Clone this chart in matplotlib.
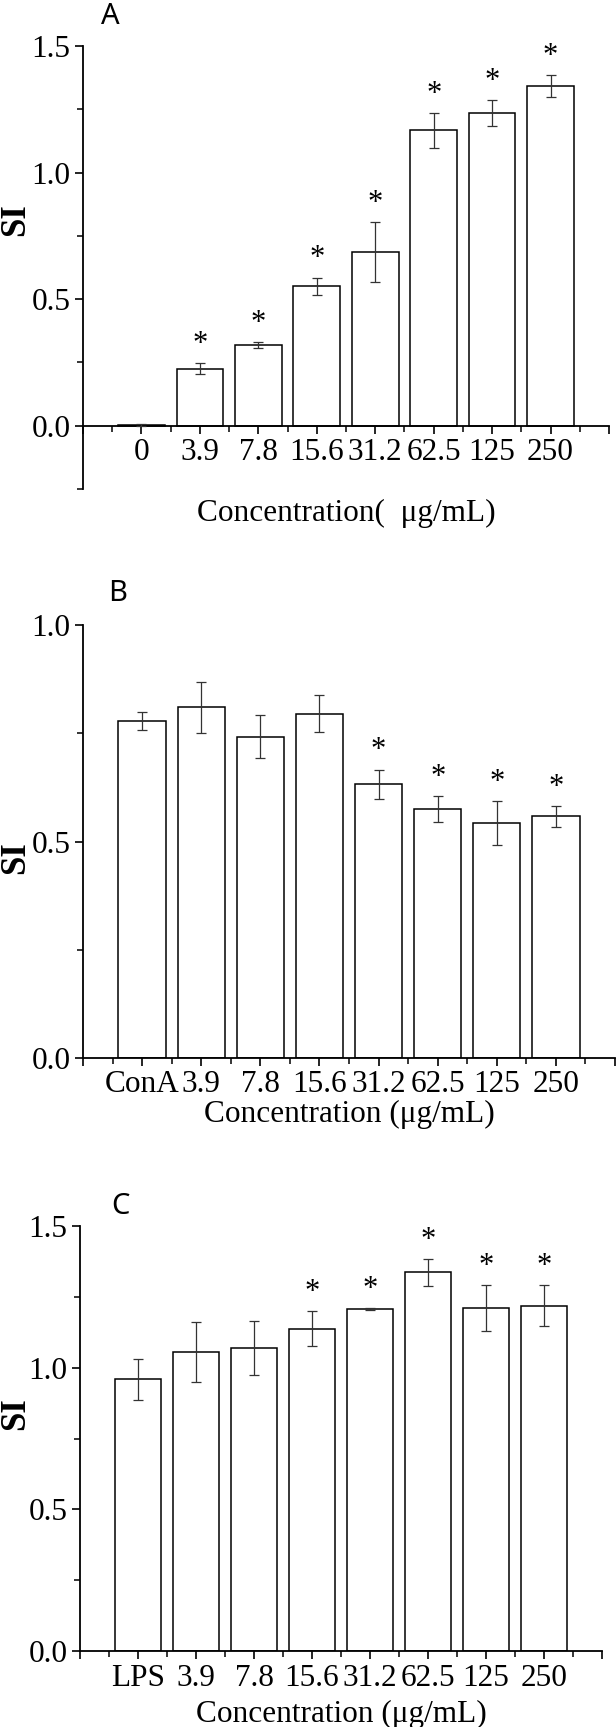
#Bar charts of SI for the three panels (A, B, C)

import numpy as np
import matplotlib
matplotlib.use('Agg')
import matplotlib.pyplot as plt
from matplotlib.ticker import MultipleLocator

plt.rcParams['font.family'] = ['Liberation Serif', 'DejaVu Sans']

#panel A data
cats_a = ['0', '3.9', '7.8', '15.6', '31.2', '62.5', '125', '250']
si_a = [0.003, 0.226, 0.319, 0.551, 0.685, 1.167, 1.234, 1.343]
err_a = [0.005, 0.021, 0.013, 0.034, 0.118, 0.069, 0.052, 0.043]
star_a = [False, True, True, True, True, True, True, True]

#panel B data
cats_b = ['ConA', '3.9', '7.8', '15.6', '31.2', '62.5', '125', '250']
si_b = [0.779, 0.810, 0.742, 0.795, 0.632, 0.575, 0.542, 0.558]
err_b = [0.021, 0.059, 0.050, 0.043, 0.034, 0.029, 0.051, 0.024]
star_b = [False, False, False, False, True, True, True, True]

#panel C data
cats_c = ['LPS', '3.9', '7.8', '15.6', '31.2', '62.5', '125', '250']
si_c = [0.959, 1.054, 1.069, 1.138, 1.206, 1.336, 1.210, 1.219]
err_c = [0.072, 0.106, 0.095, 0.062, 0.003, 0.047, 0.082, 0.073]
star_c = [False, False, False, True, True, True, True, True]

W, H = 616, 1727
fig = plt.figure(figsize=(W/100, H/100), dpi=100)


def px_axes(left, right, top, bottom):
    return fig.add_axes([left/W, 1-bottom/H, (right-left)/W, (bottom-top)/H])


def panel(ax, cats, si, err, star, ylim, xlabel, xlabel_y):
    x = np.arange(1, len(cats)+1)
    ax.bar(x, si, width=0.8, color='white', edgecolor='black', linewidth=1.1, zorder=2)
    ax.errorbar(x, si, yerr=err, fmt='none', ecolor='#333333', elinewidth=0.9,
                capsize=3.5, capthick=0.9, zorder=3)
    for i in range(len(cats)):
        if star[i]:
            ax.annotate('*', (x[i], si[i]+err[i]), xytext=(0, 3), textcoords='offset points',
                        ha='center', va='bottom', fontsize=22)
    ax.set_xlim(0, 9)
    ax.set_ylim(*ylim)
    ax.spines['top'].set_visible(False)
    ax.spines['right'].set_visible(False)
    ax.spines['bottom'].set_position(('data', 0))
    ax.spines['left'].set_linewidth(1.3)
    ax.spines['bottom'].set_linewidth(1.3)
    ax.set_xticks(range(0, 10))
    ax.set_xticklabels([''] + cats + [''])
    ax.xaxis.set_minor_locator(MultipleLocator(0.5))
    ax.yaxis.set_major_locator(MultipleLocator(0.5))
    ax.yaxis.set_minor_locator(MultipleLocator(0.25))
    ax.yaxis.set_major_formatter(matplotlib.ticker.FormatStrFormatter('%.1f'))
    ax.tick_params(which='major', direction='out', length=6, width=1.2, labelsize=22.5, pad=3)
    ax.tick_params(which='minor', direction='out', length=4, width=1.1)
    ax.set_xlabel(xlabel, fontsize=22.5)
    ax.xaxis.set_label_coords(0.5, xlabel_y)
    ax.xaxis.label.set_va('center')


axA = px_axes(83, 609, 46, 489)
panel(axA, cats_a, si_a, err_a, star_a, (-0.25, 1.5), 'Concentration(  μg/mL)', -0.055)

axB = px_axes(83, 615, 625, 1058)
panel(axB, cats_b, si_b, err_b, star_b, (0, 1.0), 'Concentration (μg/mL)', -0.13)

axC = px_axes(80, 602, 1226, 1651)
panel(axC, cats_c, si_c, err_c, star_c, (0, 1.5), 'Concentration (μg/mL)', -0.15)

#SI labels and panel letters
for ypx in [220, 858, 1414]:
    fig.text(16/W, 1-ypx/H, 'SI', rotation=90, ha='center', va='center',
             fontsize=25, fontweight='bold')
for lab, xpx, ypx in [('A', 110, 17), ('B', 118, 594), ('C', 120, 1207)]:
    fig.text(xpx/W, 1-ypx/H, lab, ha='center', va='center', fontsize=21, family='Noto Sans')

plt.savefig('out.png', dpi=100)
